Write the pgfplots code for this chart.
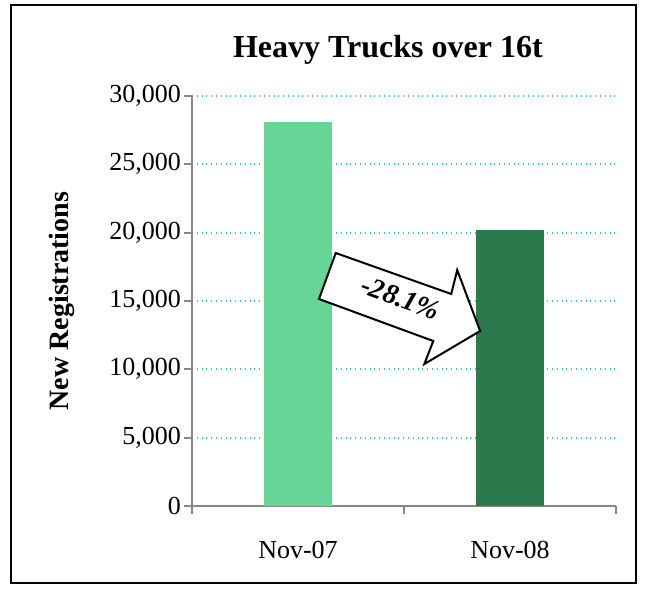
\documentclass[border=0pt]{standalone}
\usepackage{fontspec}
\setmainfont{Liberation Serif}
\usepackage{pgfplots}
\pgfplotsset{compat=1.18}

\definecolor{lightbar}{HTML}{66D596}
\definecolor{darkbar}{HTML}{2B7A4E}
\definecolor{gridteal}{HTML}{2ECDA4}
\definecolor{axisgray}{HTML}{888888}

\begin{document}
\begin{tikzpicture}
\begin{axis}[
    scale only axis,
    width=212pt, height=205pt,
    xmin=-0.5, xmax=1.5,
    ymin=0, ymax=30000,
    axis x line*=bottom, axis y line*=left,
    axis line style={draw=axisgray, line width=0.9pt},
    xtick={0,1},
    xticklabels={Nov-07, Nov-08},
    minor xtick={-0.5,0.5,1.5},
    major x tick style={draw=none},
    minor tick style={draw=axisgray, line width=0.9pt},
    minor tick length=4pt,
    ytick={0,5000,10000,15000,20000,25000,30000},
    major tick length=4pt,
    tick align=outside,
    y tick style={draw=axisgray, line width=0.9pt},
    ymajorgrids=true,
    grid style={gridteal, dotted, line width=0.9pt},
    scaled y ticks=false,
    /pgf/number format/1000 sep={,},
    /pgf/number format/assume math mode=true,
    tick label style={font=\fontsize{13}{15}\selectfont},
    xticklabel style={yshift=-10pt},
    yticklabel style={xshift=2pt},
    ylabel={New Registrations},
    ylabel style={font=\fontsize{14}{16}\selectfont\bfseries, at={(axis description cs:0,0.5)}, anchor=center, yshift=65pt},
    title={Heavy Trucks over 16t},
    title style={font=\fontsize{16}{18}\selectfont\bfseries, at={(axis description cs:0.462,1)}, anchor=base, yshift=13.5pt},
    ybar, bar width=0.325, bar shift=0pt,
    clip=false,
]
\addplot[fill=lightbar, draw=none] coordinates {(0,28100)};
\addplot[fill=darkbar, draw=none] coordinates {(1,20200)};

\draw[line width=1pt, fill=white]
    (axis cs:0.178,18512) -- (axis cs:0.723,15512) -- (axis cs:0.751,17268)
    -- (axis cs:0.859,12805) -- (axis cs:0.596,10390) -- (axis cs:0.638,12073)
    -- (axis cs:0.099,15146) -- cycle;
\node[rotate=-20, font=\fontsize{14}{16}\selectfont\bfseries\itshape]
    at (axis cs:0.484,15220) {-28.1\%};
\end{axis}
\draw[line width=1pt]
    ([shift={(-90.5pt,-38.5pt)}]current axis.south west) rectangle
    ([shift={(10pt,45.5pt)}]current axis.north east);
\path
    ([shift={(-96pt,-41.5pt)}]current axis.south west) rectangle
    ([shift={(15.5pt,48pt)}]current axis.north east);
\end{tikzpicture}
\end{document}
